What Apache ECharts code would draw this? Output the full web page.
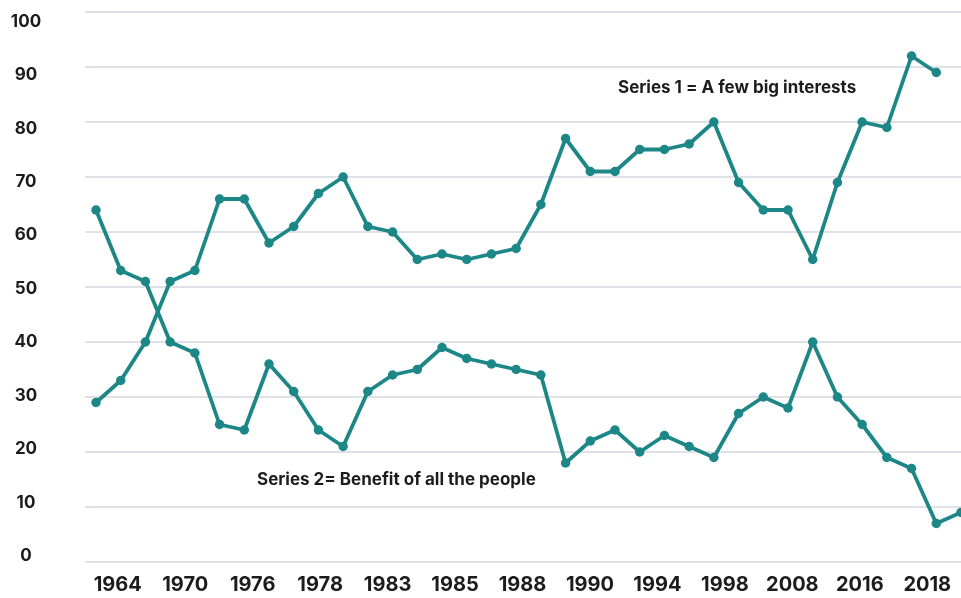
<!DOCTYPE html>
<html>
<head>
<meta charset="utf-8">
<script src="https://cdn.jsdelivr.net/npm/echarts@6/dist/echarts.min.js"></script>
<style>
html,body{margin:0;padding:0;background:#ffffff;}
#chart{width:961px;height:598px;}
</style>
</head>
<body>
<div id="chart"></div>
<script>
// Survey points (36 readings, x order)
const surveyPoints = ['p1','p2','p3','p4','p5','p6','p7','p8','p9','p10','p11','p12','p13','p14','p15','p16','p17','p18','p19','p20','p21','p22','p23','p24','p25','p26','p27','p28','p29','p30','p31','p32','p33','p34','p35','p36'];
// Tick labels on the x axis
const yearLabels = ['1964','1970','1976','1978','1983','1985','1988','1990','1994','1998','2008','2016','2018'];
// Series 1 = A few big interests
const series1 = [29,33,40,51,53,66,66,58,61,67,70,61,60,55,56,55,56,57,65,77,71,71,75,75,76,80,69,64,64,55,69,80,79,92,89,null];
// Series 2 = Benefit of all the people
const series2 = [64,53,51,40,38,25,24,36,31,24,21,31,34,35,39,37,36,35,34,18,22,24,20,23,21,19,27,30,28,40,30,25,19,17,7,9];
const series1Label = 'Series 1 = A few big interests';
const series2Label = 'Series 2= Benefit of all the people';

const teal = '#1d8787';
const textColor = '#1c1c1c';
const fontFam = 'Inter, "Open Sans", sans-serif';

const chart = echarts.init(document.getElementById('chart'), null, {renderer:'canvas'});
const lineStyle = {color: teal, width: 3.8};
chart.setOption({
  animation: false,
  backgroundColor: '#ffffff',
  grid: [
    {left: 96, top: 12, width: 865, height: 550},
    {left: 85, top: 12, width: 900, height: 550},
    {left: 84, top: 21.5, width: 883, height: 534.5}
  ],
  xAxis: [
    {gridIndex: 0, type: 'category', data: surveyPoints, boundaryGap: false, show: false},
    {gridIndex: 1, type: 'value', show: false, min: 0, max: 1},
    {gridIndex: 2, type: 'category', data: yearLabels, boundaryGap: true,
     axisLine: {show: false}, axisTick: {show: false},
     axisLabel: {interval: 0, margin: 19, color: textColor, fontSize: 20, fontWeight: 'bold', fontFamily: fontFam}}
  ],
  yAxis: [
    {gridIndex: 0, type: 'value', min: 0, max: 100, interval: 10, show: false},
    {gridIndex: 1, type: 'value', min: 0, max: 100, interval: 10,
     axisLine: {show: false}, axisTick: {show: false}, axisLabel: {show: false},
     splitLine: {show: true, lineStyle: {color: '#e0e1e7', width: 2}}},
    {gridIndex: 2, type: 'value', min: 0, max: 100, interval: 10,
     axisLine: {show: false}, axisTick: {show: false}, splitLine: {show: false},
     axisLabel: {align: 'center', margin: 58, color: textColor, fontSize: 17, fontWeight: 'bold', fontFamily: fontFam}}
  ],
  series: [
    {name: series1Label, type: 'line', xAxisIndex: 0, yAxisIndex: 0, data: series1,
     symbol: 'circle', symbolSize: 9.5, lineStyle: lineStyle, itemStyle: {color: teal}, clip: true},
    {name: series2Label, type: 'line', xAxisIndex: 0, yAxisIndex: 0, data: series2,
     symbol: 'circle', symbolSize: 9.5, lineStyle: lineStyle, itemStyle: {color: teal}, clip: false}
  ],
  graphic: [
    {type: 'text', left: 618, top: 79, style: {text: series1Label, fill: textColor, font: 'bold 17px ' + fontFam}},
    {type: 'text', left: 257, top: 471, style: {text: series2Label, fill: textColor, font: 'bold 17px ' + fontFam}}
  ]
});
</script>
</body>
</html>
